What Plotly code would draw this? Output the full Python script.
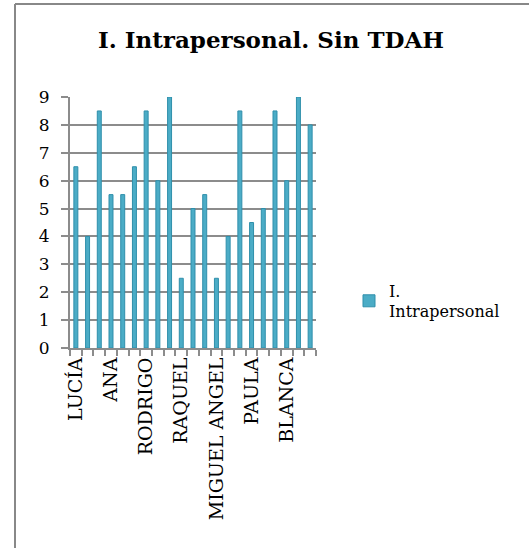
import plotly.graph_objects as go

# Data
values = [6.5, 4, 8.5, 5.5, 5.5, 6.5, 8.5, 6, 9, 2.5, 5, 5.5, 2.5, 4, 8.5, 4.5, 5, 8.5, 6, 9, 8]
tick_labels = ["LUCÍA", "ANA", "RODRIGO", "RAQUEL", "MIGUEL ANGEL", "PAULA", "BLANCA"]
series_name = "I.<br>Intrapersonal"
title_text = "I. Intrapersonal. Sin TDAH"

n = len(values)
x_idx = list(range(n))
label_step = 3
tick_pos = list(range(0, n, label_step))[:len(tick_labels)]

SERIF = "Georgia, 'DejaVu Serif', serif"
GRID = "#8c8c8c"

fig = go.Figure()
fig.add_trace(go.Bar(
    x=x_idx, y=values, name=series_name,
    width=0.34,
    marker=dict(color="#4BACC6", line=dict(color="#2f8fab", width=1)),
    showlegend=True,
))

W, H = 529, 548
# target pixels of plot area: x 70..316, y 97..348
L, T = 70, 97
R, B = W - 316, H - 348
pw, ph = W - L - R, H - T - B

def px_x(p):
    return (p - L) / pw

def px_y(p):
    return (H - B - p) / ph

fig.update_layout(
    width=W, height=H,
    margin=dict(l=L, r=R, t=T, b=B),
    paper_bgcolor="white", plot_bgcolor="white",
    title=dict(text="<b>" + title_text + "</b>", x=271 / W, xanchor="center",
               y=1 - 40 / H, yanchor="middle",
               font=dict(family=SERIF, size=23, color="black")),
    font=dict(family=SERIF, color="black"),
    legend=dict(x=px_x(349), y=px_y(301), xanchor="left", yanchor="middle",
                font=dict(family=SERIF, size=16, color="black"),
                itemwidth=30, tracegroupgap=0),
    shapes=[
        dict(type="line", xref="paper", yref="paper", x0=px_x(15), x1=px_x(600),
             y0=px_y(4), y1=px_y(4), line=dict(color="#888888", width=2)),
        dict(type="line", xref="paper", yref="paper", x0=px_x(15), x1=px_x(15),
             y0=px_y(4), y1=px_y(600), line=dict(color="#888888", width=2)),
    ],
)

fig.update_xaxes(
    range=[-0.5, n - 0.5],
    tickmode="array", tickvals=tick_pos, ticktext=tick_labels,
    tickangle=-90, ticks="", ticklen=0,
    tickfont=dict(family=SERIF, size=19, color="black"),
    showgrid=False, zeroline=False,
    showline=True, linecolor=GRID, linewidth=2,
    minor=dict(ticks="outside", tickmode="linear", tick0=-0.5, dtick=1,
               ticklen=6, tickcolor=GRID, tickwidth=1.5, showgrid=False),
    ticklabelstandoff=0,
)
fig.update_yaxes(
    range=[0, 9], dtick=1,
    ticks="outside", ticklen=7, tickcolor=GRID, tickwidth=2,
    tickfont=dict(family=SERIF, size=17, color="black"),
    showgrid=True, gridcolor=GRID, gridwidth=2,
    zeroline=False,
    showline=True, linecolor=GRID, linewidth=2,
    ticklabelstandoff=8,
)

fig.write_html(
    "out.html",
    config={"displayModeBar": False},
    post_script="document.body.style.margin='0';document.body.style.overflow='hidden';",
)
